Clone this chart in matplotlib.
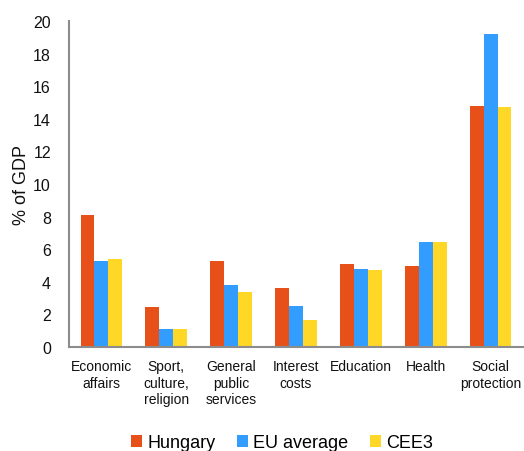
import matplotlib
matplotlib.use("Agg")
import matplotlib.pyplot as plt
import numpy as np

categories = ["Economic\naffairs", "Sport,\nculture,\nreligion", "General\npublic\nservices",
              "Interest\ncosts", "Education", "Health", "Social\nprotection"]
hungary = [8.1, 2.45, 5.3, 3.6, 5.1, 5.0, 14.8]
eu_average = [5.3, 1.1, 3.8, 2.5, 4.8, 6.45, 19.2]
cee3 = [5.4, 1.1, 3.4, 1.65, 4.7, 6.45, 14.7]
series_names = ["Hungary", "EU average", "CEE3"]
colors = ["#E8501A", "#339CFF", "#FFD726"]

plt.rcParams['font.family'] = ['Liberation Sans', 'DejaVu Sans']

fig = plt.figure(figsize=(5.24, 4.52), dpi=100)
ax = fig.add_axes([69/524, 1-348/452, (523-69)/524, (348-22)/452])

x = np.arange(len(categories))
w = 0.215
for i, (vals, name, c) in enumerate(zip([hungary, eu_average, cee3], series_names, colors)):
    ax.bar(x + (i-1)*w, vals, width=w, color=c, label=name, edgecolor='none')

ax.set_xlim(-0.5, len(categories)-0.5)
ax.set_ylim(0, 20)
ax.set_yticks(range(0, 21, 2))
ax.set_xticks(x)
ax.set_xticklabels(categories, fontsize=10, linespacing=1.2, color='#111111')
ax.tick_params(axis='both', length=0)
ax.tick_params(axis='y', pad=13, labelsize=11.5, labelcolor='#111111')
ax.tick_params(axis='x', pad=9)
for s in ['top', 'right']:
    ax.spines[s].set_visible(False)
for s in ['left', 'bottom']:
    ax.spines[s].set_color('#8c8c8c')
    ax.spines[s].set_linewidth(1.5)
ax.set_ylabel("% of GDP", fontsize=13, labelpad=2, color='#111111')

fig.legend(loc='center', bbox_to_anchor=(282/524, 1-444/452), ncol=3, frameon=False,
           fontsize=13, handlelength=0.6, handleheight=0.6, handletextpad=0.3,
           columnspacing=1.2)

fig.savefig("out.png", dpi=100)
